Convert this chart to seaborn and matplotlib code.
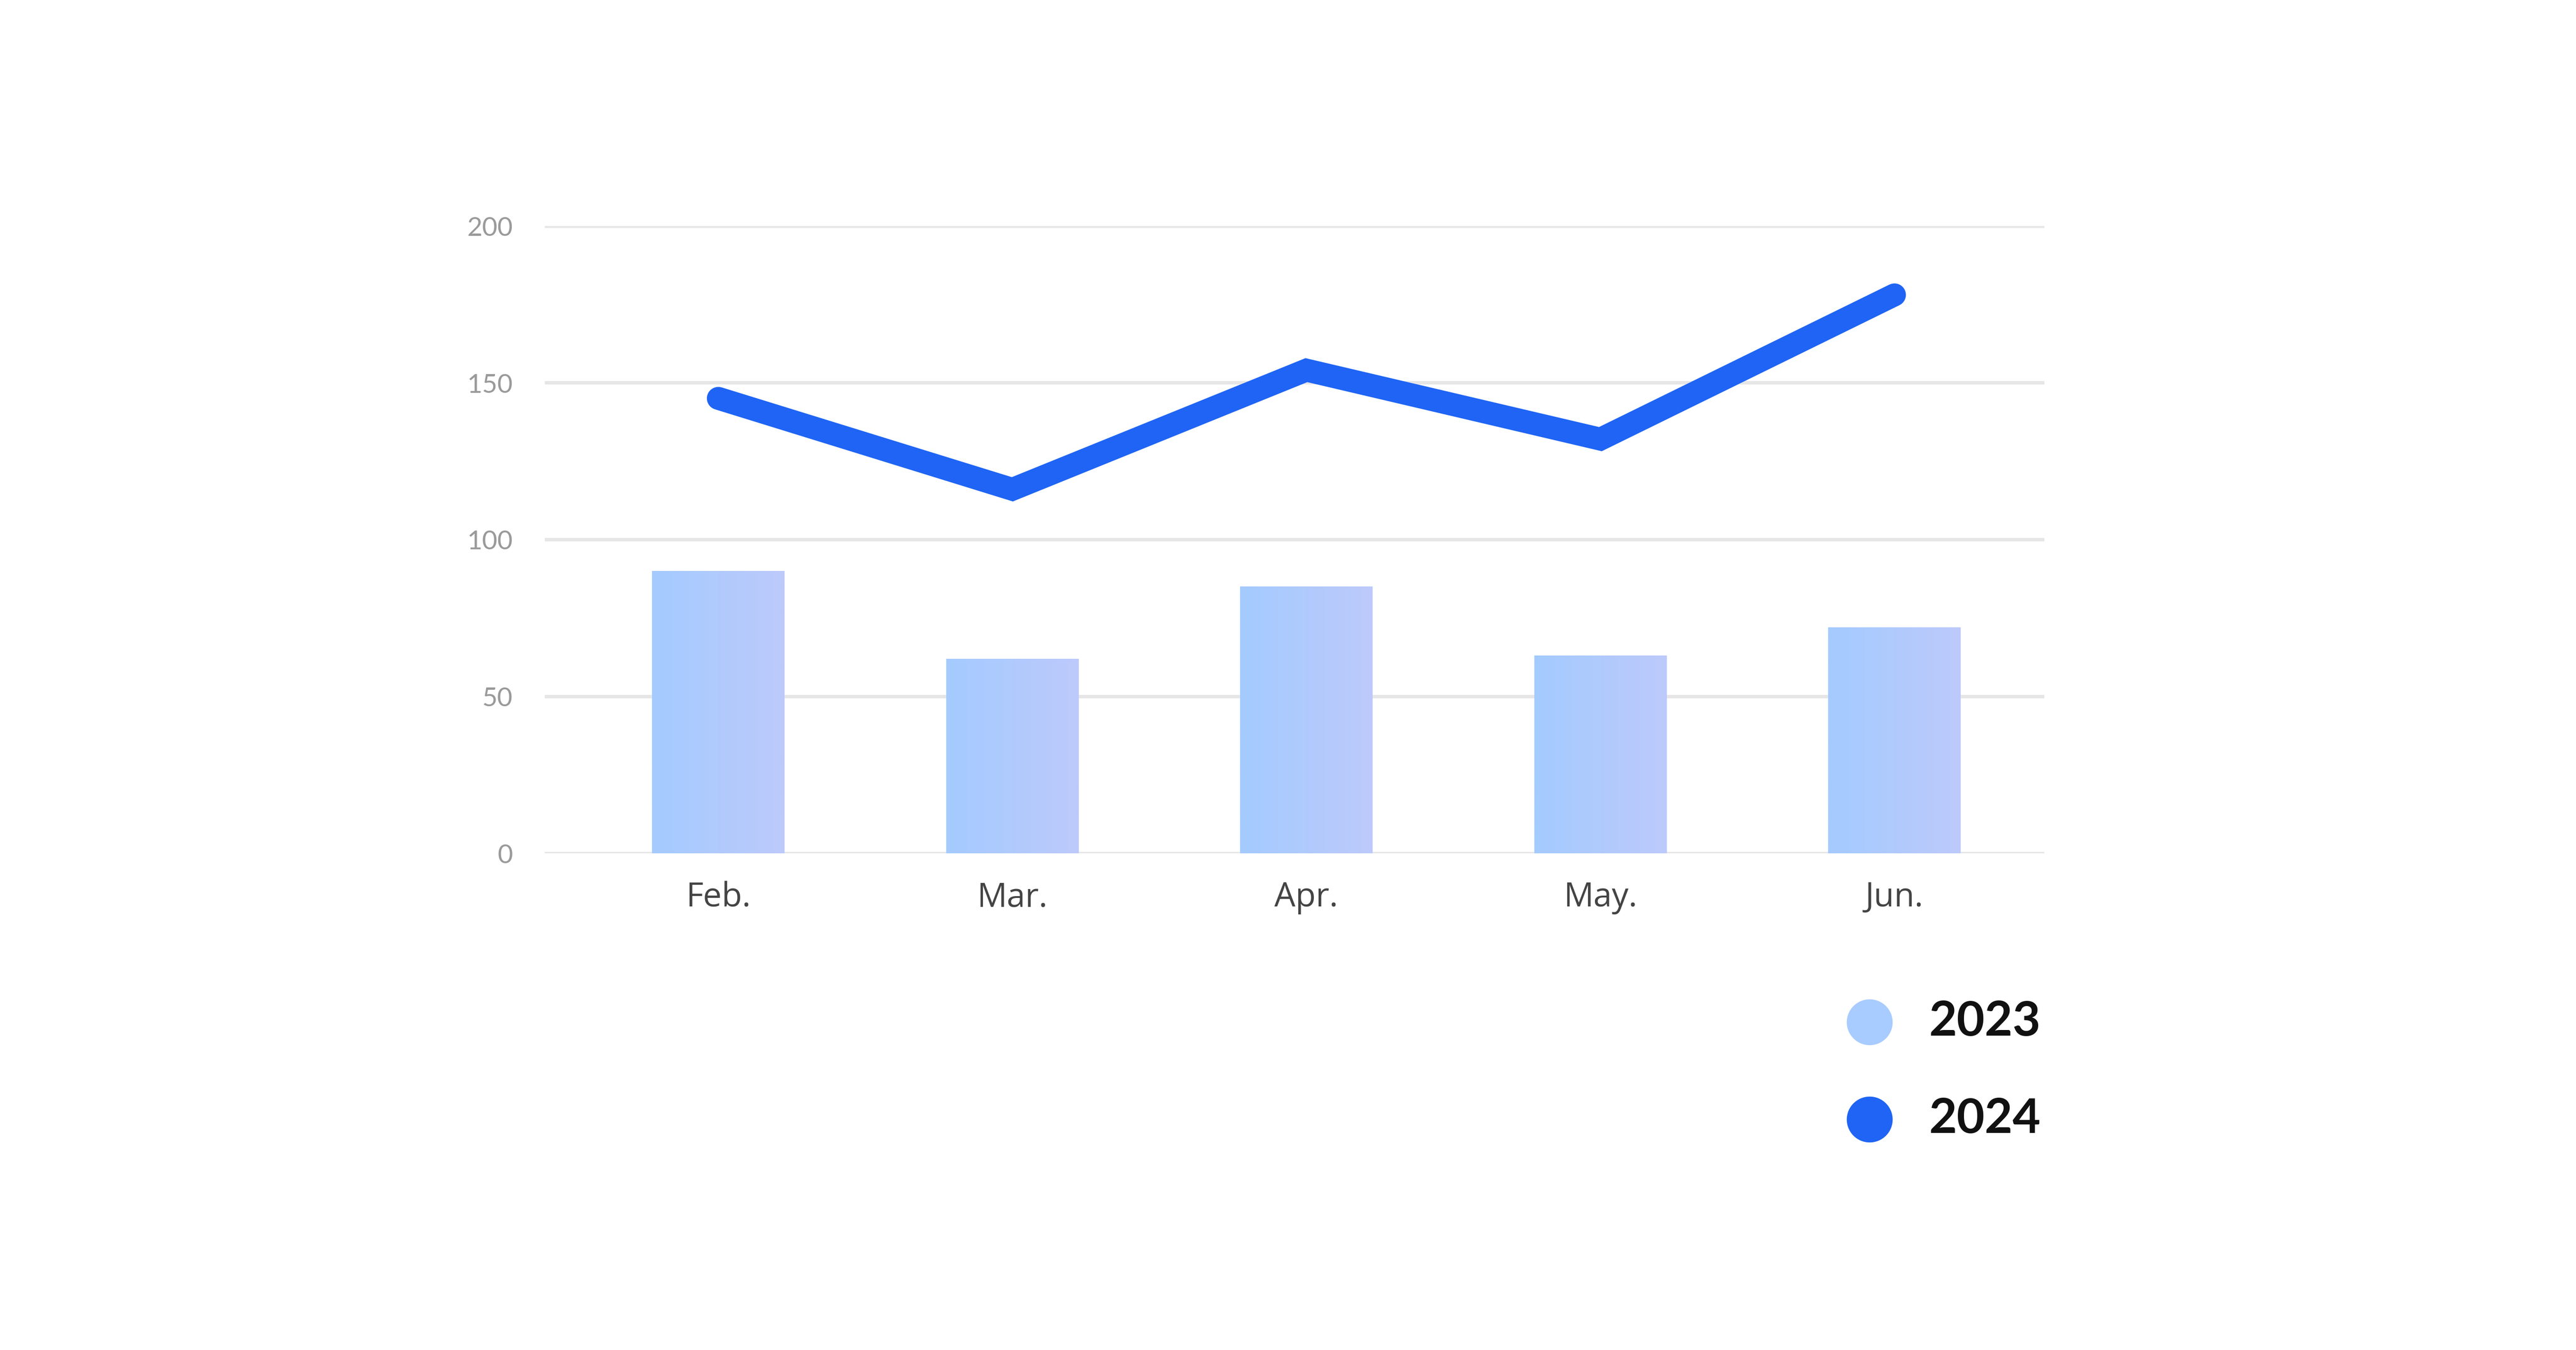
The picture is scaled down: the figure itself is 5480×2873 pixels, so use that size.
import numpy as np
import pandas as pd
import matplotlib
matplotlib.use("Agg")
import matplotlib.pyplot as plt
import seaborn as sns
from matplotlib.lines import Line2D

months = ["Feb.", "Mar.", "Apr.", "May.", "Jun."]
values_2023 = [90, 62, 85, 63, 72]
values_2024 = [145, 116, 154, 132, 178]
y_ticks = [0, 50, 100, 150, 200]

sns.set_theme(style="white")
plt.rcParams['font.family'] = ['Lato', 'DejaVu Sans']

fig = plt.figure(figsize=(15.6, 8.18), dpi=351.3)
ax = fig.add_axes([0.2115, 0.368, 0.5821, 0.4645])

df = pd.DataFrame({"month": months, "y2023": values_2023, "y2024": values_2024})
sns.barplot(data=df, x="month", y="y2023", color="#a8ccff", width=0.45,
            saturation=1, ax=ax, zorder=2)

# horizontal gradient on bars
grad = np.linspace(0, 1, 256).reshape(1, -1)
from matplotlib.colors import LinearSegmentedColormap
cmap = LinearSegmentedColormap.from_list("g", ["#a4cbff", "#bdc9fb"])
for p in list(ax.patches):
    x0, y0 = p.get_x(), p.get_y()
    w, h = p.get_width(), p.get_height()
    p.set_alpha(0)
    im = ax.imshow(grad, cmap=cmap, extent=[x0, x0 + w, y0, y0 + h],
                   aspect="auto", zorder=2.5)
    im.set_clip_path(p)

sns.lineplot(x=np.arange(len(months)), y=df["y2024"], color="#1f64f4",
             linewidth=10, ax=ax, zorder=3, solid_capstyle="round",
             solid_joinstyle="miter")

ax.set_xlim(-0.59, 4.51)
ax.set_ylim(0, 200)
ax.set_yticks(y_ticks)
ax.set_yticklabels([str(v) for v in y_ticks], color="#9a9a9a", fontsize=11.5)
ax.set_xticks(range(len(months)))
ax.set_xticklabels(months, color="#444444", fontsize=14.5,
                   family=["Open Sans", "DejaVu Sans"])
ax.tick_params(axis="y", length=0, pad=14)
ax.tick_params(axis="x", length=0, pad=12)
ax.set_xlabel("")
ax.set_ylabel("")
for s in ax.spines.values():
    s.set_visible(False)
ax.grid(False)
for v in y_ticks:
    ax.axhline(v, color="#e6e6e6", linewidth=1.5, zorder=1)

# legend
for yy, col, lab in [(0.243, "#a8ccff", "2023"), (0.171, "#1f64f4", "2024")]:
    fig.add_artist(Line2D([1132 / 1560], [yy], marker="o", markersize=19,
                          color=col, linestyle="none", transform=fig.transFigure))
    fig.text(1168 / 1560, yy, lab, fontsize=21, fontweight="bold",
             color="#111111", va="center", ha="left")

fig.savefig("out.png", dpi=351.3, facecolor="white")
